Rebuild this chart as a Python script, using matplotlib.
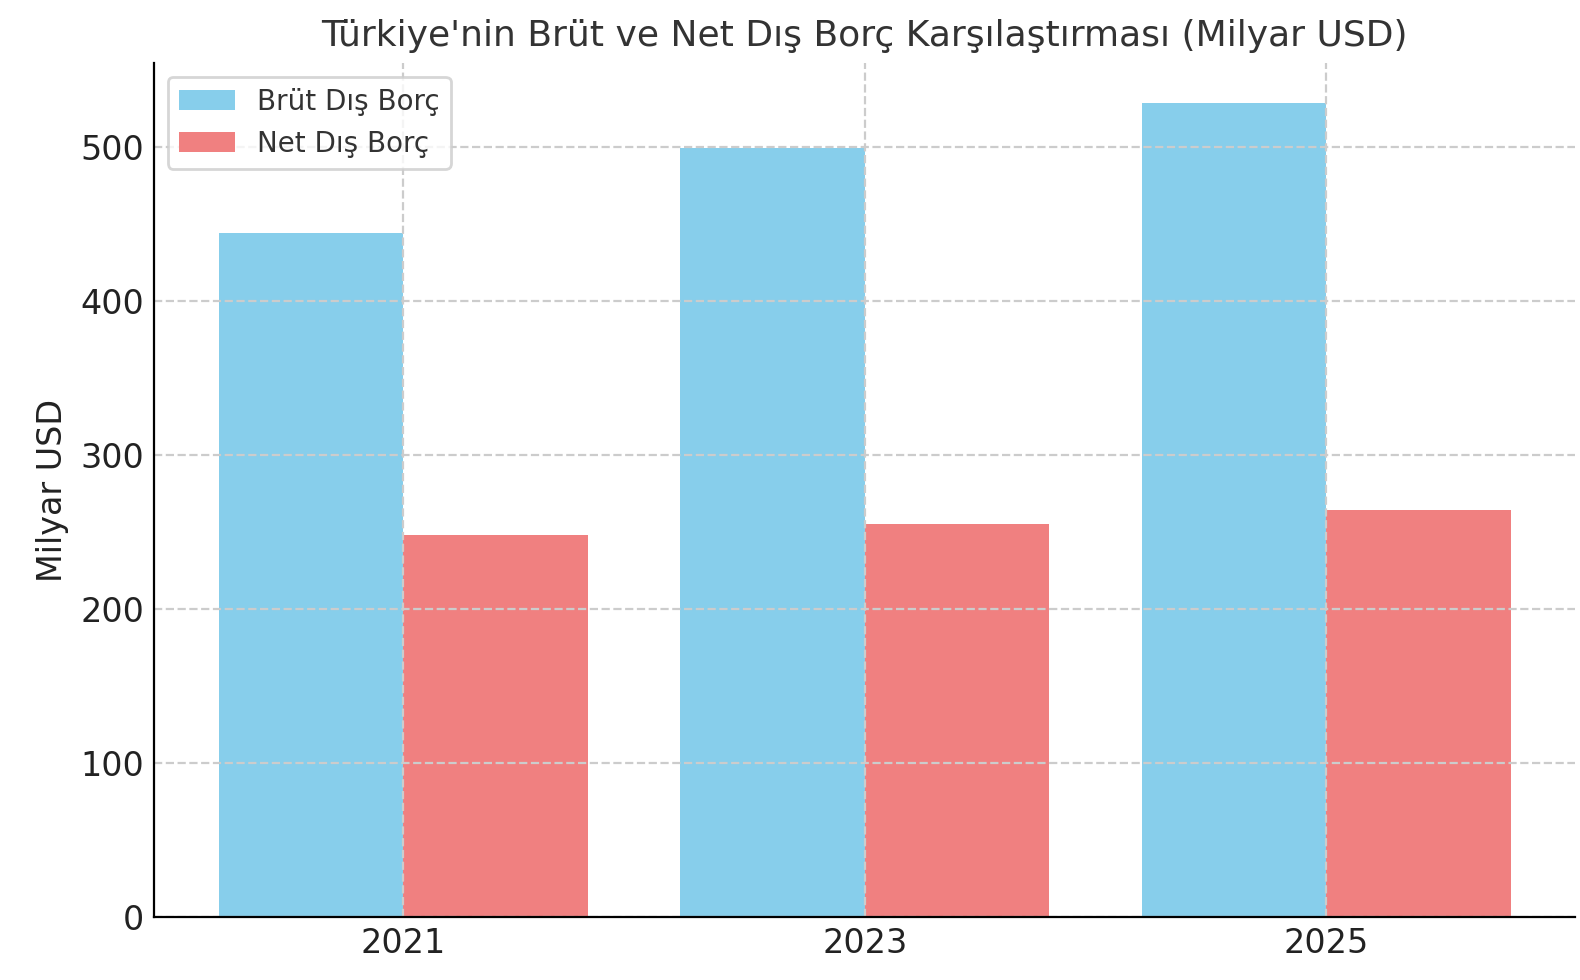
import numpy as np
import matplotlib.pyplot as plt

years = ['2021', '2023', '2025']
brut = [444, 499, 528]
net = [248, 255, 264]

plt.rcParams['font.family'] = 'DejaVu Sans'

fig = plt.figure(figsize=(7.9, 4.9), dpi=200)
ax = fig.add_axes([0.0975, 0.064, 0.8995, 0.872])

x = np.arange(len(years))
w = 0.4
ax.bar(x - w / 2, brut, w, color='skyblue', label='Brüt Dış Borç', zorder=1)
ax.bar(x + w / 2, net, w, color='lightcoral', label='Net Dış Borç', zorder=1)

ax.set_xticks(x)
ax.set_xticklabels(years)
ax.tick_params(labelsize=12, colors='#222222', length=0)
ax.set_ylabel('Milyar USD', fontsize=12, color='#222222')
ax.set_title("Türkiye'nin Brüt ve Net Dış Borç Karşılaştırması (Milyar USD)",
             fontsize=13, color='#333333')
ax.grid(True, linestyle='--', color='#cccccc', linewidth=0.8, zorder=0)
ax.spines['top'].set_visible(False)
ax.spines['right'].set_visible(False)
ax.legend(fontsize=10, labelcolor='#333333', edgecolor='#cccccc')

plt.savefig('out.png', dpi=200)
plt.close()
